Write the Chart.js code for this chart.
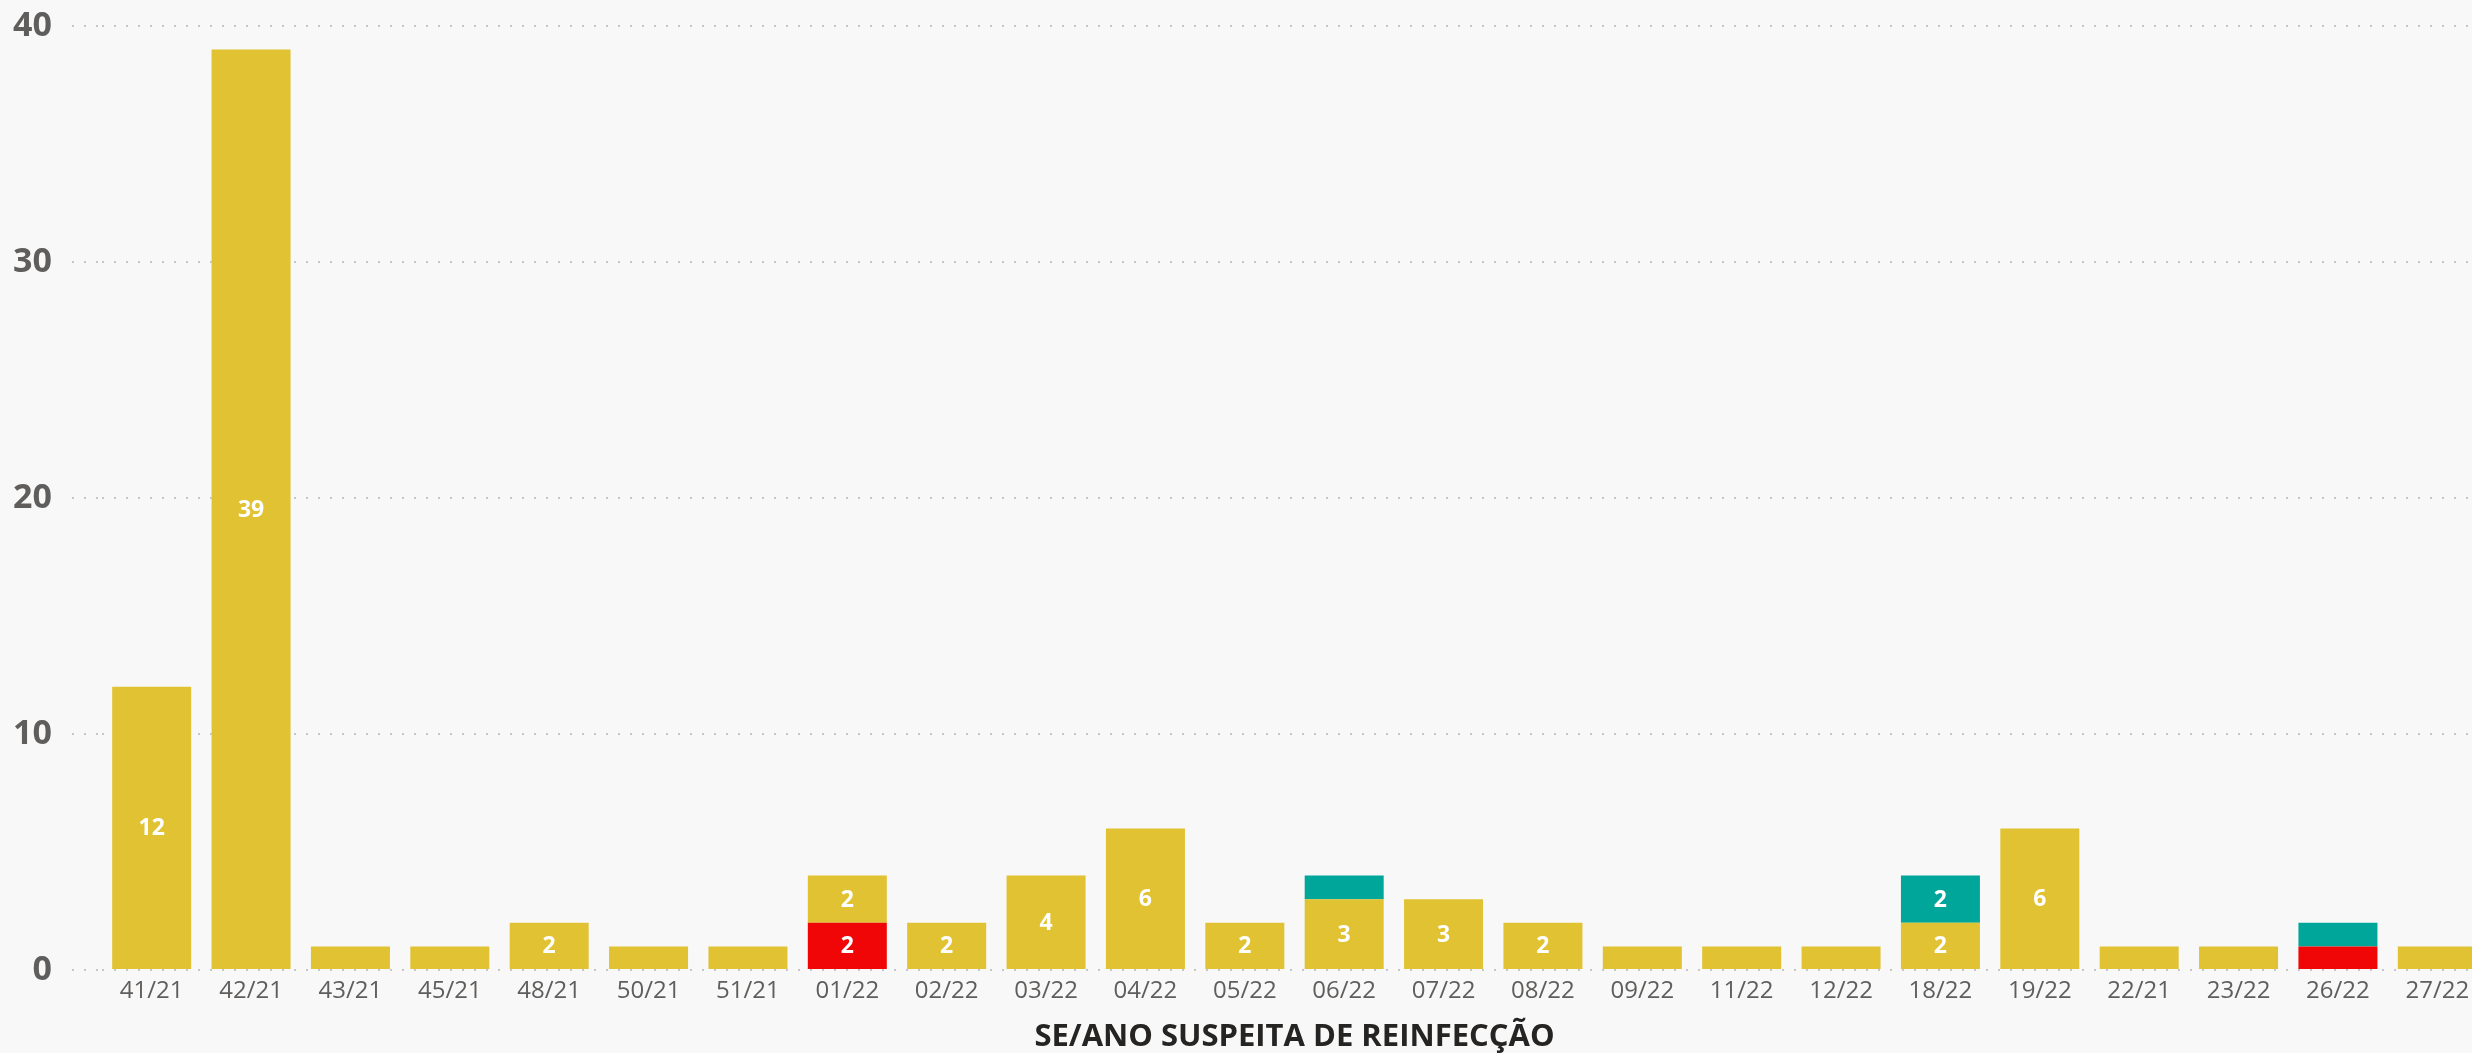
<!DOCTYPE html>
<html>
<head>
<meta charset="utf-8">
<script src="https://cdn.jsdelivr.net/npm/chart.js@4.4.1/dist/chart.umd.min.js"></script>
<style>
  html, body { margin: 0; padding: 0; background: #F8F8F8; overflow: hidden; }
  #wrap { width: 2500px; height: 1053px; position: relative; }
</style>
</head>
<body>
<div id="wrap"><canvas id="chart"></canvas></div>
<script>
// semanas epidemiológicas (SE/ano)
const CATEGORIES = ['41/21','42/21','43/21','45/21','48/21','50/21','51/21','01/22','02/22','03/22',
                    '04/22','05/22','06/22','07/22','08/22','09/22','11/22','12/22','18/22','19/22',
                    '22/21','23/22','26/22','27/22'];
const RED_VALUES    = [0,0,0,0,0,0,0,2,0,0, 0,0,0,0,0,0,0,0,0,0, 0,0,1,0];
const YELLOW_VALUES = [12,39,1,1,2,1,1,2,2,4, 6,2,3,3,2,1,1,1,2,6, 1,1,0,1];
const TEAL_VALUES   = [0,0,0,0,0,0,0,0,0,0, 0,0,1,0,0,0,0,0,2,0, 0,0,1,0];
const Y_TICKS = [0, 10, 20, 30, 40];

const FONT = '"Open Sans", "Noto Sans", sans-serif';
const GRID = '#C6C6C6';

// rótulos brancos dentro das barras (só para valores >= 2)
const barLabels = {
  id: 'barLabels',
  afterDatasetsDraw(chart) {
    const ctx = chart.ctx;
    ctx.save();
    ctx.fillStyle = '#FFFFFF';
    ctx.font = 'bold 23px ' + FONT;
    ctx.textAlign = 'center';
    ctx.textBaseline = 'middle';
    chart.data.datasets.forEach((ds, i) => {
      const meta = chart.getDatasetMeta(i);
      meta.data.forEach((bar, j) => {
        const v = ds.data[j];
        if (v < 2) return;
        const p = bar.getProps(['x', 'y', 'base'], true);
        ctx.fillText(String(v), p.x, (p.y + p.base) / 2 + 1);
      });
    });
    ctx.restore();
  }
};

const ctx = document.getElementById('chart').getContext('2d');
new Chart(ctx, {
  type: 'bar',
  data: {
    labels: CATEGORIES,
    datasets: [
      { label: 'Confirmado',      data: RED_VALUES,    backgroundColor: '#F00606' },
      { label: 'Em investigação', data: YELLOW_VALUES, backgroundColor: '#E0C232' },
      { label: 'Descartado',      data: TEAL_VALUES,   backgroundColor: '#01A69A' }
    ]
  },
  options: {
    responsive: true,
    maintainAspectRatio: false,
    animation: false,
    layout: { padding: { top: 26, left: 13, right: 13, bottom: 0 } },
    datasets: { bar: { barPercentage: 0.795, categoryPercentage: 1, borderWidth: 0 } },
    plugins: {
      legend: { display: false },
      tooltip: { enabled: false }
    },
    scales: {
      x: {
        stacked: true,
        grid: { display: false },
        border: { display: false },
        ticks: { color: '#605E5C', font: { family: FONT, size: 24, lineHeight: 1.0 }, padding: 1, maxRotation: 0, autoSkip: false },
        title: {
          display: true,
          text: 'SE/ANO SUSPEITA DE REINFECÇÃO',
          color: '#252423',
          font: { family: FONT, size: 31, weight: 'bold', lineHeight: 1.0 },
          padding: { top: 18, bottom: 0 }
        }
      },
      y: {
        stacked: true,
        min: 0,
        max: 40,
        afterBuildTicks: s => { s.ticks = Y_TICKS.map(v => ({ value: v })); },
        afterFit: s => { s.width = 89; s.paddingTop = 0; s.paddingBottom = 0; },
        border: { display: false, dash: [2, 10] },
        grid: {
          color: GRID,
          lineWidth: 2,
          tickLength: 30,
          tickColor: GRID,
          tickWidth: 2,
          tickBorderDash: [2, 10]
        },
        ticks: { color: '#605E5C', font: { family: FONT, size: 34, weight: 'bold' }, padding: 20 }
      }
    }
  },
  plugins: [barLabels]
});
</script>
</body>
</html>
